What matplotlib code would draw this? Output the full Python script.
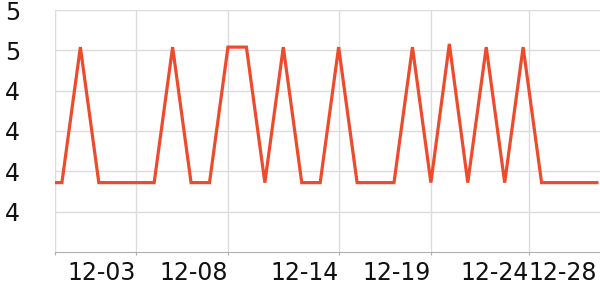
import numpy as np
import pandas as pd
import matplotlib
matplotlib.use("Agg")
import matplotlib.pyplot as plt
import matplotlib.dates as mdates
from matplotlib.ticker import FuncFormatter

# data
times = ["2023-11-28 15:00"] + [str(d.date()) + " 00:00" for d in pd.date_range("2023-11-29", "2023-12-28")]
values = [3.93, 3.93, 4.77, 3.93, 3.93, 3.93, 3.93, 4.77, 3.93, 3.93, 4.77,
          4.77, 3.93, 4.77, 3.93, 3.93, 4.77, 3.93, 3.93, 3.93, 4.77,
          3.93, 4.79, 3.93, 4.77, 3.93, 4.77, 3.93, 3.93, 3.93, 3.93]
tick_times = ["2023-11-28 15:00", "2023-12-03 00:00", "2023-12-08 00:00", "2023-12-14 00:00",
              "2023-12-19 00:00", "2023-12-24 08:00", "2023-12-28 00:00"]
tick_labels = ["", "12-03", "12-08", "12-14", "12-19", "12-24", "12-28"]
y_ticks = [3.75, 4.0, 4.25, 4.5, 4.75, 5.0]

x = pd.to_datetime(times, format="%Y-%m-%d %H:%M")
xt = pd.to_datetime(tick_times, format="%Y-%m-%d %H:%M")

fig = plt.figure(figsize=(6, 3), dpi=100)
ax = fig.add_axes([55/600, 48/300, 545/600, 242/300])

ax.plot(x, values, color="#ee4a2c", lw=2.3, solid_joinstyle="miter", zorder=3)

ax.set_xlim(x[0], x[-1] + pd.Timedelta(hours=4))
ax.set_ylim(3.5, 5.0)

ax.set_xticks(xt)
ax.set_xticklabels(tick_labels, ha="right")
ax.set_yticks(y_ticks)
ax.yaxis.set_major_formatter(FuncFormatter(lambda v, p: f"{round(v)}"))

ax.grid(True, color="#dcdcdc", lw=1)
ax.xaxis.get_gridlines()[-1].set_visible(False)
ax.xaxis.get_major_ticks()[-1].tick1line.set_visible(False)
ax.set_axisbelow(True)

for s in ["top", "right"]:
    ax.spines[s].set_visible(False)
ax.spines["left"].set_color("#dcdcdc")
ax.spines["bottom"].set_color("#b0b0b0")

ax.tick_params(axis="y", length=0, pad=25, labelsize=17, labelcolor="#111111")
ax.tick_params(axis="x", length=2.5, color="#b0b0b0", pad=4, labelsize=17, labelcolor="#111111")

fig.savefig("out.png", dpi=100)
